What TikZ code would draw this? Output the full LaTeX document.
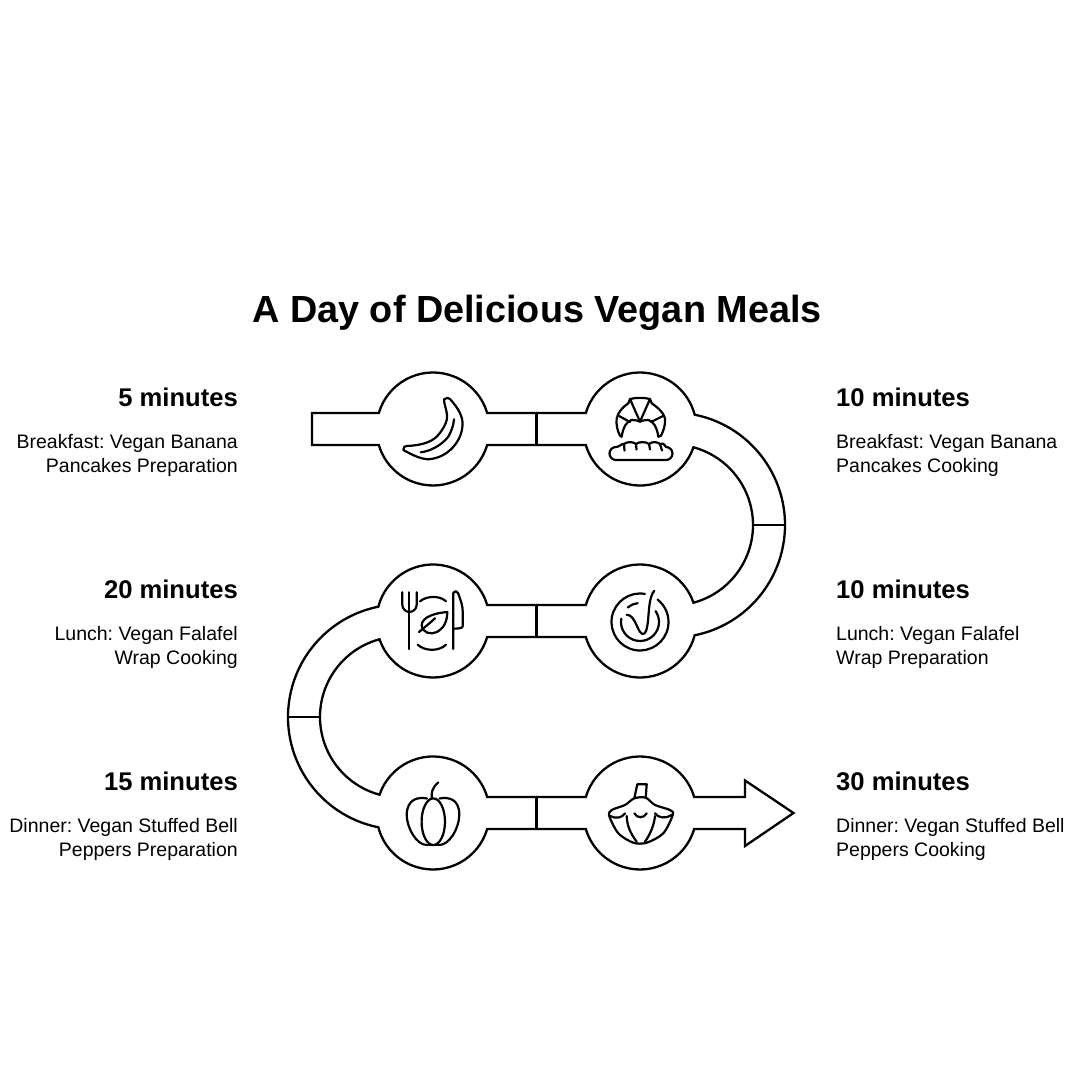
\documentclass[tikz,border=0pt]{standalone}
\usepackage{fontspec}
\setmainfont{Liberation Sans}
\usetikzlibrary{positioning}
\begin{document}
\frenchspacing
\begin{tikzpicture}[
    x=1pt, y=1pt,
    track/.style={line width=2.3pt, line join=miter},
    icon/.style={line width=2.2pt, line cap=round, line join=round},
    title/.style={font=\bfseries\fontsize{37.8}{44}\selectfont},
    minutes/.style={font=\bfseries\fontsize{25.6}{30}\selectfont, inner sep=0pt},
    descleft/.style={font=\fontsize{19.5}{24}\selectfont, align=right, inner sep=0pt, anchor=north east},
    descright/.style={font=\fontsize{19.5}{24}\selectfont, align=left, inner sep=0pt, anchor=north west}
]
\useasboundingbox (0,0) rectangle (1080,1080);
\def\rr{56.5}
\coordinate (c1) at (433,651);
\coordinate (c2) at (640,651);
\coordinate (c3) at (640,459);
\coordinate (c4) at (433,459);
\coordinate (c5) at (433,267);
\coordinate (c6) at (640,267);

\node[title, inner sep=0pt, anchor=base] (heading) at (537,757) {A Day of Delicious Vegan Meals};

% the road, one closed outline
\draw[track] (312,667)
  -- ([shift={(163.55:\rr)}]c1) arc[start angle=163.55, end angle=16.45, radius=\rr]
  -- ([shift={(163.55:\rr)}]c2) arc[start angle=163.55, end angle=14.66, radius=\rr]
  arc[start angle=78.64, end angle=-78.64, radius=112.5]
  arc[start angle=-14.66, end angle=-163.55, radius=\rr]
  -- ([shift={(-16.45:\rr)}]c4) arc[start angle=-16.45, end angle=-161.13, radius=\rr]
  arc[start angle=105.1, end angle=254.9, radius=80.5]
  arc[start angle=161.13, end angle=16.45, radius=\rr]
  -- ([shift={(163.55:\rr)}]c6) arc[start angle=163.55, end angle=16.45, radius=\rr]
  -- (745,283) -- (745,299.5) -- (793.5,267) -- (745,234) -- (745,251)
  -- ([shift={(-16.45:\rr)}]c6) arc[start angle=-16.45, end angle=-163.55, radius=\rr]
  -- ([shift={(-16.45:\rr)}]c5) arc[start angle=-16.45, end angle=-165.34, radius=\rr]
  arc[start angle=258.64, end angle=101.36, radius=112.5]
  arc[start angle=165.34, end angle=16.45, radius=\rr]
  -- ([shift={(163.55:\rr)}]c3) arc[start angle=163.55, end angle=18.87, radius=\rr]
  arc[start angle=-74.9, end angle=74.9, radius=80.5]
  arc[start angle=-18.87, end angle=-163.55, radius=\rr]
  -- ([shift={(-16.45:\rr)}]c1) arc[start angle=-16.45, end angle=-163.55, radius=\rr]
  -- (312,635) -- cycle;

% dividers
\draw[track] (536.5,667) -- (536.5,635);
\draw[track] (536.5,475) -- (536.5,443);
\draw[track] (536.5,283) -- (536.5,251);
\draw[track] (753,555) -- (785,555);
\draw[track] (288,363) -- (320.5,363);

% banana
\begin{scope}[shift={(c1)}]
\draw[icon] (11,29.7) .. controls (13,31.5) and (16,31.5) .. (17,30)
  .. controls (26,20) and (30,12) .. (29.5,4)
  .. controls (29,-12) and (15,-29) .. (-4.7,-30.3)
  .. controls (-14,-30) and (-24,-24) .. (-29.7,-21)
  .. controls (-30,-18) and (-28,-17) .. (-26.3,-17)
  .. controls (-14,-16.5) and (-3,-14) .. (3.7,-7.7)
  .. controls (10,-1) and (15,8) .. (14,14)
  .. controls (13.5,20) and (11,25) .. cycle;
\draw[icon] (-12.3,-23.3) .. controls (-4,-22.5) and (8,-17) .. (15.3,-7.7) .. controls (18,-3) and (20.5,3) .. (21,9.7);
\end{scope}

% croissant and bread
\begin{scope}[shift={(c2)}]
\draw[icon] (-18.3,-7.7) -- (-20,-6.7) .. controls (-23,-1) and (-24,5) .. (-23.3,10.7)
  .. controls (-22,17) and (-17,22) .. (-11.7,25.7) -- (-10,30) .. controls (-4,31.5) and (4,31.5) .. (10,30)
  -- (11.7,25.7) .. controls (17,22) and (23.5,17) .. (25,10.7) .. controls (25.5,5) and (24,-1) .. (21,-6.7) -- (18.3,-7.7);
\draw[icon] (18.3,-7.7) .. controls (17,2) and (13,8) .. (8.3,9) .. controls (5,9.5) and (2,8) .. (0,7.3)
  .. controls (-2,8) and (-5,9.5) .. (-8.3,9) .. controls (-13,8) and (-17,2) .. (-18.3,-7.7);
\draw[icon] (-10,30) -- (0,7.3) -- (10,30);
\draw[icon] (-21,13) -- (-10,7);
\draw[icon] (23,13) -- (11,7);
\draw[icon] (-24,-31) -- (26,-31) arc[start angle=-90, end angle=90, radius=6.5]
  .. controls (24,-14.5) and (21.5,-13.5) .. (20,-15)
  .. controls (17,-12.5) and (12,-12.5) .. (9,-15)
  .. controls (6,-12.5) and (-1,-12.5) .. (-4,-15)
  .. controls (-7,-12.5) and (-13,-12.5) .. (-16,-15)
  .. controls (-18,-14.5) and (-21,-18) .. (-24,-18)
  arc[start angle=90, end angle=270, radius=6.5];
\draw[icon] (20,-15) -- (22,-21.5);
\draw[icon] (9,-15) -- (10,-20.5);
\draw[icon] (-4,-15) -- (-3.5,-20.5);
\draw[icon] (-16,-15) -- (-15.5,-21.5);
\end{scope}

% bowl with spoon
\begin{scope}[shift={(c3)}]
\draw[icon] (0,-1) ++(80:28.5) arc[start angle=80, end angle=412, radius=28.5];
\draw[icon] (0,-1) ++(170:19) arc[start angle=170, end angle=395, radius=19];
\draw[icon] (0,-1) ++(130:19) arc[start angle=130, end angle=97, radius=19];
\draw[icon] (-13.3,6.3) .. controls (-8,6) and (-6,1) .. (-3,-5) .. controls (-1,-10) and (1,-13) .. (3,-13)
  .. controls (6,-13) and (7,-8) .. (8,0) .. controls (9,10) and (9,24) .. (14.3,30.3);
\end{scope}

% fork, plate, knife
\begin{scope}[shift={(c4)}]
\draw[icon] (-30.7,28.7) -- (-30.7,16.3) .. controls (-30.7,12) and (-27,9) .. (-23.7,9) .. controls (-20,9) and (-16.3,12) .. (-16.3,16.3) -- (-16.3,28.7);
\draw[icon] (-23.7,28.7) -- (-23.7,-28);
\draw[icon] (20.3,-28) -- (20.3,28) .. controls (21,30.5) and (24,30.5) .. (25,28) .. controls (28,20) and (29.7,15) .. (29.7,9.7) -- (29.7,-5.3) .. controls (29.7,-7) and (26,-7.7) .. (20.3,-7.7);
\draw[icon] (-13,19.7) .. controls (-6,25.5) and (7,25.5) .. (13,19.7);
\draw[icon] (-15.3,-23.7) .. controls (-8,-30.5) and (6,-30.5) .. (13,-23.7);
\draw[icon] (14.3,9) .. controls (2,8) and (-11,4) .. (-11.3,-4) .. controls (-11,-12) and (-2,-14) .. (4,-11) .. controls (12,-6) and (14,0) .. cycle;
\draw[icon] (-14,-11) .. controls (-8,-6) and (-3,-2) .. (2,2.7);
\end{scope}

% pumpkin
\begin{scope}[shift={(c5)}]
\draw[icon] (0.3,-8.7) ellipse[x radius=11.7, y radius=23.3];
\draw[icon] (-6,14.5) .. controls (-14,16) and (-26,15) .. (-26.3,-2) .. controls (-26,-16) and (-16,-32) .. (-6.3,-32);
\draw[icon] (6.5,14.5) .. controls (14.5,16) and (26.5,15) .. (26.3,-2) .. controls (26,-16) and (16,-32) .. (6.3,-32);
\draw[icon] (-6.3,-32) -- (6.3,-32);
\draw[icon] (-1.3,14.7) .. controls (-1.3,20) and (-2,24) .. (5.3,30.7);
\end{scope}

% squash
\begin{scope}[shift={(c6)}]
\draw[icon] (-5.7,14.7) -- (-2.7,28.7) -- (6.7,28.7) -- (5.7,15.3);
\draw[icon] plot[smooth cycle, tension=.5] coordinates {(-5.7,14.7) (-15,8) (-28.3,3) (-30.7,-3) (-21.7,-20.3) (-6.7,-29.7) (6.7,-29.7) (23.3,-20.3) (32.7,-2) (30,3) (15,8) (5.7,15.3)};
\draw[icon] (-30,-3) .. controls (-24,-6) and (-18,-5) .. (-15,-0.3);
\draw[icon] (15,-0.3) .. controls (18,-5) and (26,-6) .. (31.7,-2);
\draw[icon] (-5.7,-0.3) .. controls (-3,-5.5) and (4,-5.5) .. (6.7,-0.3);
\draw[icon] (-13.3,-3) .. controls (-13,-12) and (-10,-20) .. (-3.3,-28.7);
\draw[icon] (15,-3) .. controls (14,-12) and (11,-20) .. (5,-28.7);
\end{scope}

% left column
\node[minutes, anchor=base east] (m1) at (238,673.3) {5 minutes};
\node[descleft] (d1) at (238,646) {Breakfast: Vegan Banana\\Pancakes Preparation};
\node[minutes, anchor=base east] (m4) at (238,481.3) {20 minutes};
\node[descleft] (d4) at (238,454) {Lunch: Vegan Falafel\\Wrap Cooking};
\node[minutes, anchor=base east] (m5) at (238,289.3) {15 minutes};
\node[descleft] (d5) at (238,262) {Dinner: Vegan Stuffed Bell\\Peppers Preparation};

% right column
\node[minutes, anchor=base west] (m2) at (836,673.3) {10 minutes};
\node[descright] (d2) at (836,646) {Breakfast: Vegan Banana\\Pancakes Cooking};
\node[minutes, anchor=base west] (m3) at (836,481.3) {10 minutes};
\node[descright] (d3) at (836,454) {Lunch: Vegan Falafel\\Wrap Preparation};
\node[minutes, anchor=base west] (m6) at (836,289.3) {30 minutes};
\node[descright] (d6) at (836,262) {Dinner: Vegan Stuffed Bell\\Peppers Cooking};
\end{tikzpicture}
\end{document}
